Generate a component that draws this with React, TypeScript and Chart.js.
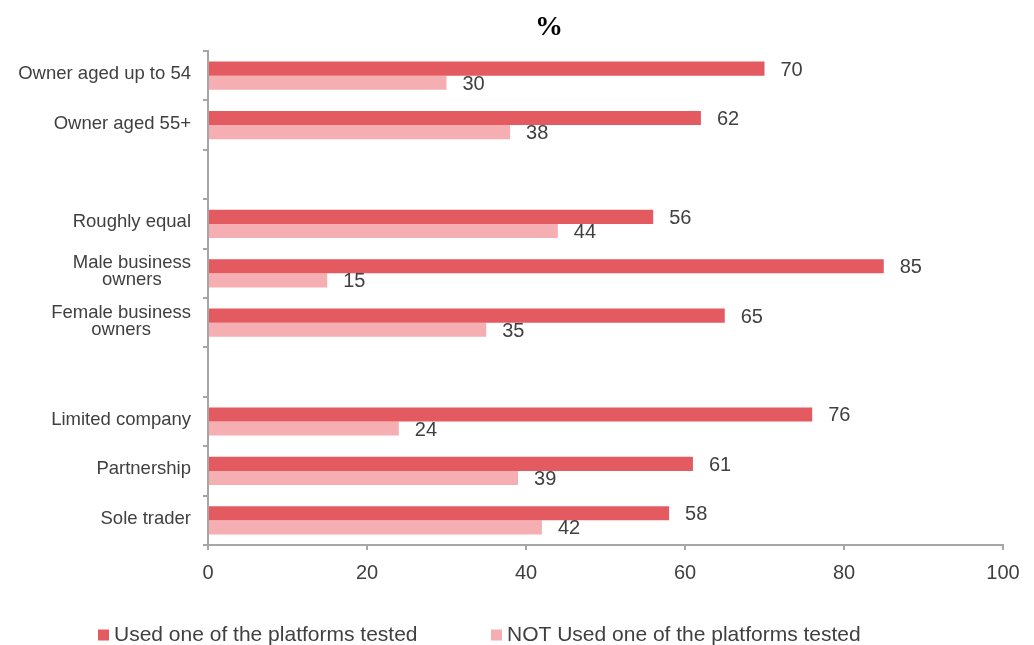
import React, { useEffect, useRef } from "react";
import { Chart, registerables } from "chart.js";

Chart.register(...registerables);

const categories: (string | string[])[] = [
  "Owner aged up to 54",
  "Owner aged 55+",
  "",
  "Roughly equal",
  ["Male business", "owners"],
  ["Female business", "owners"],
  "",
  "Limited company",
  "Partnership",
  "Sole trader",
];

const usedValues: (number | null)[] = [70, 62, null, 56, 85, 65, null, 76, 61, 58];
const notUsedValues: (number | null)[] = [30, 38, null, 44, 15, 35, null, 24, 39, 42];

const seriesNames = ["Used one of the platforms tested", "NOT Used one of the platforms tested"];
const seriesColors = ["#E35A60", "#F5AEB2"];
const titleText = "%";

const FONT = '"Liberation Sans", Arial, sans-serif';
const TEXT = "#404040";
const AXIS = "#A6A6A6";

const valueLabelPlugin = {
  id: "valueLabels",
  afterDatasetsDraw(chart: any) {
    const ctx = chart.ctx;
    ctx.save();
    ctx.font = `20px ${FONT}`;
    ctx.fillStyle = TEXT;
    ctx.textAlign = "left";
    ctx.textBaseline = "middle";
    chart.data.datasets.forEach((ds: any, di: number) => {
      const meta = chart.getDatasetMeta(di);
      meta.data.forEach((el: any, i: number) => {
        const v = ds.data[i];
        if (v === null || v === undefined) return;
        ctx.fillText(String(v), el.x + 16, el.y + 1.5);
      });
    });
    ctx.restore();
  },
};

const decorPlugin = {
  id: "decor",
  afterDraw(chart: any) {
    const ctx = chart.ctx;
    const yScale = chart.scales.y;
    const area = chart.chartArea;
    ctx.save();
    // category labels: block right-aligned, lines centered
    ctx.font = `18.5px ${FONT}`;
    ctx.fillStyle = TEXT;
    ctx.textAlign = "center";
    ctx.textBaseline = "middle";
    const labels = chart.data.labels as (string | string[])[];
    labels.forEach((lab, i) => {
      const lines = Array.isArray(lab) ? lab : [lab];
      if (!lines.join("")) return;
      const maxW = Math.max(...lines.map((l) => ctx.measureText(l).width));
      const right = area.left - 17;
      const cx = right - maxW / 2;
      const cy = yScale.getPixelForValue(i) - 1.5;
      const lh = 17;
      lines.forEach((l, k) => {
        ctx.fillText(l, cx, cy + (k - (lines.length - 1) / 2) * lh);
      });
    });

    // title
    ctx.font = `bold 28px "Liberation Serif", "Times New Roman", serif`;
    ctx.fillStyle = "#000000";
    ctx.textAlign = "center";
    ctx.fillText(titleText, 549, 28);

    // legend
    ctx.font = `21px ${FONT}`;
    ctx.textAlign = "left";
    const starts = [98, 491];
    chart.data.datasets.forEach((ds: any, di: number) => {
      const x = starts[di];
      const y = 635;
      ctx.fillStyle = ds.backgroundColor;
      ctx.fillRect(x, y - 5.5, 11, 11);
      ctx.fillStyle = TEXT;
      ctx.fillText(ds.label, x + 16, y);
    });
    ctx.restore();
  },
};

export default function App() {
  const ref = useRef<HTMLCanvasElement | null>(null);

  useEffect(() => {
    document.body.style.margin = "0";
    const canvas = ref.current!;
    const chart = new Chart(canvas, {
      type: "bar",
      data: {
        labels: categories as any,
        datasets: [
          {
            label: seriesNames[0],
            data: usedValues,
            backgroundColor: seriesColors[0],
            borderWidth: 0,
            categoryPercentage: 0.57,
            barPercentage: 1.0,
          },
          {
            label: seriesNames[1],
            data: notUsedValues,
            backgroundColor: seriesColors[1],
            borderWidth: 0,
            categoryPercentage: 0.57,
            barPercentage: 1.0,
          },
        ],
      },
      options: {
        indexAxis: "y",
        responsive: false,
        animation: false,
        devicePixelRatio: 1,
        layout: { padding: { top: 51, right: 31, left: 0, bottom: 0 } },
        plugins: {
          legend: { display: false },
          title: { display: false },
          tooltip: { enabled: false },
        },
        scales: {
          y: {
            type: "category",
            offset: true,
            grid: {
              display: true,
              drawOnChartArea: false,
              drawTicks: true,
              tickLength: 5,
              color: AXIS,
              lineWidth: 2,
              offset: true,
            },
            border: { display: true, color: AXIS, width: 2 },
            ticks: { display: false },
            afterFit: (s: any) => {
              s.width = 208;
            },
          },
          x: {
            min: 0,
            max: 100,
            ticks: {
              stepSize: 20,
              color: TEXT,
              font: { family: FONT, size: 20 },
              padding: 11,
            },
            grid: {
              display: true,
              drawOnChartArea: false,
              drawTicks: true,
              tickLength: 5,
              color: AXIS,
              lineWidth: 2,
            },
            border: { display: true, color: AXIS, width: 2 },
            afterFit: (s: any) => {
              s.height = 100;
            },
          },
        },
      } as any,
      plugins: [valueLabelPlugin, decorPlugin],
    });
    return () => chart.destroy();
  }, []);

  return (
    <div style={{ position: "absolute", left: 0, top: 0, width: 1034, height: 645, background: "#ffffff" }}>
      <canvas ref={ref} width={1034} height={645} style={{ display: "block" }} />
    </div>
  );
}
